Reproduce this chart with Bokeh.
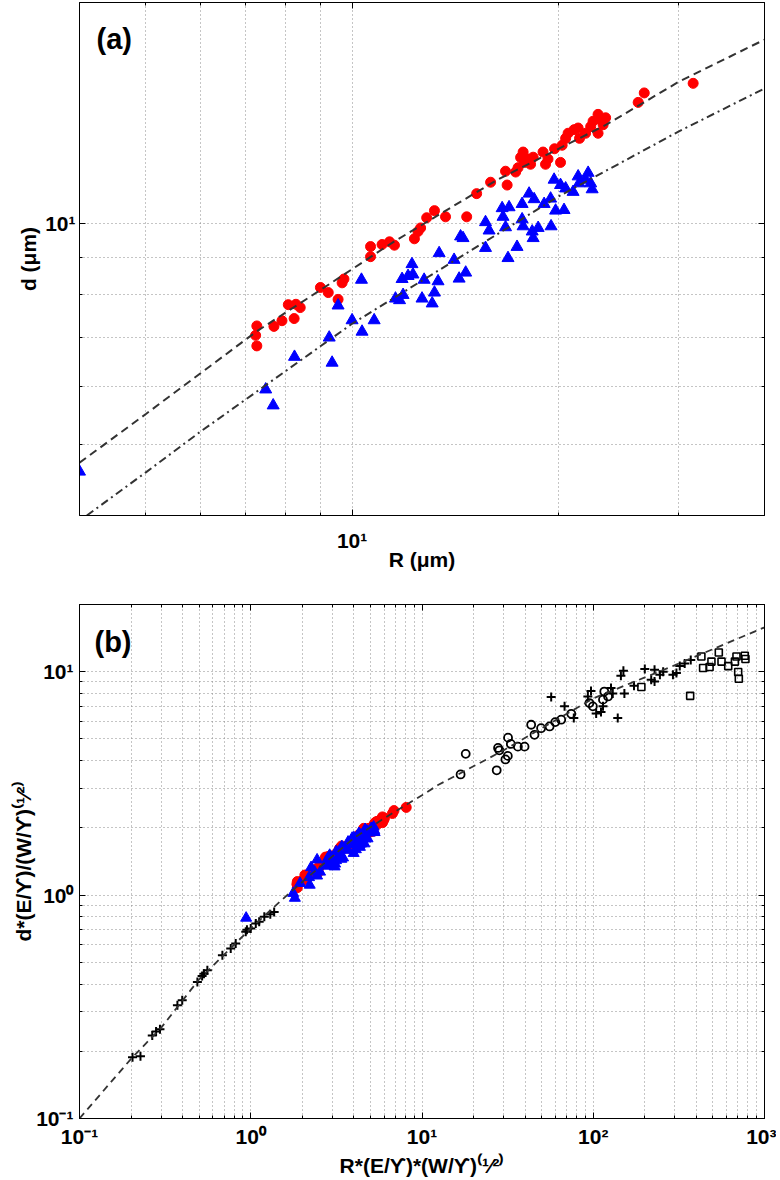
from bokeh.plotting import figure
from bokeh.models import FixedTicker, LogAxis, Label
from bokeh.layouts import column
from bokeh.embed import file_html
from bokeh.resources import INLINE

FONT = "Liberation Sans"

# ---------------- panel (a) data : R (um) vs d (um) ----------------
a_red_R = [7.26, 7.23, 7.26, 7.69, 7.90, 8.07, 8.23, 8.28, 8.40, 8.99, 9.23, 9.54, 9.67, 9.73,
           10.64, 10.64, 11.06, 11.34, 11.53, 12.33, 12.48, 12.59, 12.85, 13.19, 13.69, 14.70,
           15.20, 15.93, 16.75, 16.84, 17.33, 17.47, 17.62, 17.77, 17.86, 18.07, 18.22, 18.38,
           19.00, 19.16, 19.32, 19.75, 20.15, 20.26, 20.50, 20.67, 21.09, 21.38, 21.48, 21.92,
           22.30, 22.48, 22.86, 22.86, 23.06, 23.25, 23.45, 26.16, 26.70, 31.47]
a_red_d = [7.25, 7.04, 6.81, 7.24, 7.37, 7.75, 7.42, 7.76, 7.68, 8.18, 8.05, 7.88, 8.30, 8.40,
           9.30, 9.01, 9.36, 9.44, 9.34, 9.53, 9.75, 9.86, 10.18, 10.41, 10.21, 10.21,
           10.98, 11.38, 11.78, 11.28, 11.75, 11.91, 12.30, 12.51, 12.11, 12.24, 12.04, 12.31,
           12.51, 12.04, 12.24, 12.64, 12.11, 12.78, 13.06, 13.27, 13.42, 13.49, 13.06, 13.27,
           13.55, 13.78, 14.08, 13.27, 13.86, 13.63, 13.93, 14.62, 15.06, 15.52]
a_blue_R = [4.00, 7.48, 7.67, 8.24, 9.26, 9.35, 9.54, 10.00, 10.32, 10.34, 10.77, 11.57, 11.73,
            11.83, 11.87, 12.07, 12.23, 12.27, 12.65, 12.74, 13.09, 13.19, 13.35, 13.40, 14.09,
            14.33, 14.40, 14.52, 14.65, 15.66, 15.66, 15.85, 16.56, 16.61, 16.75, 16.89, 16.95,
            17.41, 17.71, 17.71, 17.77, 18.13, 18.32, 18.38, 18.44, 18.69, 19.07, 19.49, 19.52,
            19.72, 19.82, 20.15, 20.39, 20.50, 21.02, 21.38, 21.45, 21.92, 22.11, 22.30, 22.41]
a_blue_d = [4.59, 5.94, 5.65, 6.58, 6.99, 6.46, 7.73, 7.38, 8.38, 7.12, 7.38, 7.90, 7.86,
            8.40, 7.99, 8.48, 8.80, 8.52, 7.90, 8.38, 7.78, 8.05, 8.34, 9.11, 8.92,
            8.41, 9.60, 9.55, 8.57, 9.26, 10.04, 9.78, 10.49, 10.21, 9.88, 8.97, 10.52,
            9.29, 10.63, 10.13, 9.91, 10.98, 9.75, 9.55, 10.79, 9.86, 10.63, 10.81, 9.91,
            11.47, 10.41, 11.28, 10.43, 11.16, 11.04, 11.59, 11.34, 11.47, 11.72, 11.34, 11.13]
a_fit1_R = [4.0, 5.0, 7.26, 9.0, 11.5, 16.3, 23.5, 30.0, 40.0]
a_fit1_d = [4.72, 5.50, 7.13, 8.12, 9.44, 11.47, 13.63, 15.6, 17.8]
a_fit2_R = [4.1, 5.0, 6.0, 10.0, 20.0, 30.0, 40.0]
a_fit2_d = [4.0, 4.58, 5.20, 7.30, 10.88, 13.35, 15.27]

# ---------------- panel (b) data : normalised ----------------
b_red_x = [1.87, 1.86, 1.87, 1.98, 2.03, 2.07, 2.12, 2.13, 2.16, 2.31, 2.37, 2.45, 2.49, 2.50,
           2.73, 2.73, 2.84, 2.91, 2.96, 3.17, 3.21, 3.24, 3.30, 3.39, 3.52, 3.78, 3.91, 4.09,
           4.30, 4.33, 4.45, 4.49, 4.53, 4.57, 4.59, 4.64, 4.68, 4.72, 4.88, 4.92, 4.97, 5.08,
           5.18, 5.21, 5.27, 5.31, 5.42, 5.49, 5.52, 5.63, 5.73, 5.78, 5.88, 5.88, 5.93, 5.98,
           6.03, 6.72, 6.86, 8.09]
b_red_y = [1.15, 1.12, 1.08, 1.15, 1.17, 1.23, 1.18, 1.23, 1.22, 1.30, 1.28, 1.25, 1.32, 1.34,
           1.48, 1.43, 1.49, 1.50, 1.49, 1.52, 1.55, 1.57, 1.62, 1.66, 1.62, 1.62, 1.75, 1.81,
           1.87, 1.79, 1.87, 1.89, 1.96, 1.99, 1.93, 1.95, 1.91, 1.96, 1.99, 1.91, 1.95, 2.01,
           1.93, 2.03, 2.08, 2.11, 2.13, 2.14, 2.08, 2.11, 2.15, 2.19, 2.24, 2.11, 2.20, 2.17,
           2.21, 2.32, 2.39, 2.47]
b_blue_x = [0.94, 1.77, 1.81, 1.94, 2.19, 2.21, 2.25, 2.36, 2.44, 2.44, 2.54, 2.73, 2.77, 2.79,
            2.80, 2.85, 2.89, 2.90, 2.99, 3.01, 3.09, 3.11, 3.15, 3.16, 3.33, 3.38, 3.40, 3.43,
            3.46, 3.70, 3.70, 3.74, 3.91, 3.92, 3.95, 3.99, 4.00, 4.11, 4.18, 4.18, 4.19, 4.28,
            4.32, 4.34, 4.35, 4.41, 4.50, 4.60, 4.61, 4.65, 4.68, 4.76, 4.81, 4.84, 4.96, 5.05,
            5.06, 5.17, 5.22, 5.26, 5.29]
b_blue_y = [0.79, 1.02, 0.97, 1.13, 1.20, 1.11, 1.33, 1.27, 1.44, 1.22, 1.27, 1.36, 1.35, 1.44,
            1.37, 1.46, 1.51, 1.47, 1.36, 1.44, 1.34, 1.38, 1.43, 1.57, 1.53, 1.45, 1.65, 1.64,
            1.47, 1.59, 1.73, 1.68, 1.80, 1.76, 1.70, 1.54, 1.81, 1.60, 1.83, 1.74, 1.70, 1.89,
            1.68, 1.64, 1.86, 1.70, 1.83, 1.86, 1.70, 1.97, 1.79, 1.94, 1.79, 1.92, 1.90, 1.99,
            1.95, 1.97, 2.02, 1.95, 1.91]
b_plus_x = [0.204, 0.227, 0.266, 0.28, 0.295, 0.373, 0.398, 0.488, 0.52, 0.533, 0.558, 0.683,
            0.764, 0.817, 0.935, 0.95, 1.0, 1.07, 1.12, 1.20, 1.30, 1.37,
            56.8, 68, 77, 93, 97, 104, 111, 114, 127, 130, 139, 145, 150, 152, 173, 200,
            218, 228, 228, 245, 256, 292, 306, 320, 342, 371]
b_plus_y = [0.188, 0.19, 0.235, 0.245, 0.251, 0.321, 0.338, 0.408, 0.435, 0.445, 0.461, 0.538,
            0.577, 0.607, 0.685, 0.70, 0.709, 0.747, 0.76, 0.80, 0.82, 0.84,
            7.7, 7.0, 6.2, 7.75, 8.2, 6.5, 6.6, 7.0, 8.45, 8.0, 6.2, 9.6, 10.1, 8.0, 8.65, 10.3,
            9.2, 9.05, 10.2, 9.7, 10.0, 9.7, 9.87, 10.6, 10.9, 11.3]
b_circ_x = [16.8, 18.0, 27.3, 27.8, 28.3, 30.7, 31.7, 31.8, 33.0, 36.3, 39.7, 43.4, 45.4, 49.6,
            55.6, 60.0, 65.0, 74.4, 95.0, 99.5, 114, 116, 122]
b_circ_y = [3.47, 4.29, 3.62, 4.56, 4.45, 4.05, 4.20, 5.07, 4.75, 4.62, 4.62, 5.79, 5.22, 5.59,
            5.69, 5.95, 6.10, 6.48, 7.24, 7.00, 7.50, 8.15, 7.75]
b_sq_x = [191, 368, 428, 438, 478, 490, 541, 561, 614, 672, 686, 702, 708, 767, 774]
b_sq_y = [8.54, 7.8, 11.7, 10.4, 10.5, 11.1, 12.2, 11.1, 10.6, 11.1, 11.7, 9.97, 9.3, 11.8, 11.4]
b_fit_x = [0.1, 0.2, 0.3, 0.5, 1.0, 1.7, 2.6, 4.0, 5.8, 10, 12.4, 30, 100, 300, 1000]
b_fit_y = [0.1, 0.185, 0.255, 0.42, 0.71, 1.03, 1.36, 1.80, 2.17, 2.8, 3.11, 4.45, 7.6, 10.7, 15.8]

# tick values and texts
a_major = [10]
a_xminor = [5, 6, 7, 8, 9, 20, 30, 40]
a_yminor = [5, 6, 7, 8, 9]
b_major_x = [0.1, 1, 10, 100, 1000]
b_major_y = [0.1, 1, 10]
b_minor = [0.2, 0.3, 0.4, 0.5, 0.6, 0.7, 0.8, 0.9, 2, 3, 4, 5, 6, 7, 8, 9,
           20, 30, 40, 50, 60, 70, 80, 90, 200, 300, 400, 500, 600, 700, 800, 900]
tick_text = {0.1: "10\u207b\u00b9", 1: "10\u2070", 10: "10\u00b9", 100: "10\u00b2", 1000: "10\u00b3"}
a_xlabel = "R (\u03bcm)"
a_ylabel = "d (\u03bcm)"
b_xlabel = "R*(E/\u03d2)*(W/\u03d2)\u207d\u00b9\u2044\u00b2\u207e"
b_ylabel = "d*(E/\u03d2)/(W/\u03d2)\u207d\u00b9\u2044\u00b2\u207e"

GRID = "#8a8a8a"
LINE = "#333333"


def style(p, xt, yt, labsize, so_x, so_y, xl, yl, xlsize, xl_so, yl_so):
    p.background_fill_color = "white"
    p.border_fill_color = "white"
    p.outline_line_color = "black"
    p.outline_line_width = 1
    p.below[0].ticker = xt
    p.left[0].ticker = yt
    p.below[0].axis_label = xl
    p.left[0].axis_label = yl
    p.below[0].axis_label_standoff = xl_so
    p.left[0].axis_label_standoff = yl_so
    for ax, so in ((p.below[0], so_x), (p.left[0], so_y)):
        ax.major_label_overrides = dict(tick_text)
        ax.major_label_text_font = FONT
        ax.major_label_text_font_style = "bold"
        ax.major_label_text_font_size = labsize
        ax.major_label_text_color = "black"
        ax.major_label_standoff = so
        ax.axis_label_text_font = FONT
        ax.axis_label_text_font_style = "bold"
        ax.axis_label_text_font_size = xlsize
        ax.axis_label_text_color = "black"
        ax.major_tick_in = 6
        ax.major_tick_out = 0
        ax.minor_tick_in = 3
        ax.minor_tick_out = 0
        ax.axis_line_color = "black"
        ax.major_tick_line_color = "black"
        ax.minor_tick_line_color = "black"
    for loc, tk in (("above", xt), ("right", yt)):
        ax = LogAxis(ticker=tk, major_label_text_font_size="1px", major_label_text_color=None,
                     major_label_standoff=0,
                     major_tick_in=6, major_tick_out=0, minor_tick_in=3, minor_tick_out=0,
                     axis_line_color="black", major_tick_line_color="black",
                     minor_tick_line_color="black")
        p.add_layout(ax, loc)
    for g in (p.xgrid[0], p.ygrid[0]):
        g.grid_line_color = GRID
        g.grid_line_dash = "1 3"
        g.grid_line_width = 1
        g.minor_grid_line_color = GRID
        g.minor_grid_line_dash = "1 3"
        g.minor_grid_line_width = 1


def panel_label(p, text, x, y):
    p.add_layout(Label(x=x, y=y, x_units="screen", y_units="screen", text=text,
                       text_font=FONT, text_font_style="bold", text_font_size="29px",
                       text_align="left", text_baseline="middle", text_color="black"))


# ---------------- figure (a) ----------------
pa = figure(x_axis_type="log", y_axis_type="log", x_range=(4, 40), y_range=(4, 20),
            frame_width=685, frame_height=513, min_border_left=79, min_border_right=12,
            min_border_top=2, min_border_bottom=75, toolbar_location=None,
            output_backend="svg")
style(pa, FixedTicker(ticks=a_major, minor_ticks=a_xminor),
      FixedTicker(ticks=a_major, minor_ticks=a_yminor), "21px", 13, 4,
      a_xlabel, a_ylabel, "21px", -7, 2)
pa.scatter(a_red_R, a_red_d, marker="circle", size=10, fill_color="#ff0000", line_color="#ff0000")
pa.scatter(a_blue_R, a_blue_d, marker="triangle", size=12, fill_color="#0000ff", line_color="#0000ff")
pa.line(a_fit1_R, a_fit1_d, line_color=LINE, line_width=2, line_dash="8 5")
pa.line(a_fit2_R, a_fit2_d, line_color=LINE, line_width=2, line_dash="8 4 2 4")
panel_label(pa, "(a)", 17, 477)

# ---------------- figure (b) ----------------
pb = figure(x_axis_type="log", y_axis_type="log", x_range=(0.1, 1000), y_range=(0.1, 20),
            frame_width=685, frame_height=514, min_border_left=79, min_border_right=12,
            min_border_top=14, min_border_bottom=58, toolbar_location=None,
            output_backend="svg")
style(pb, FixedTicker(ticks=b_major_x, minor_ticks=b_minor),
      FixedTicker(ticks=b_major_y, minor_ticks=b_minor), "21px", 6, 6,
      b_xlabel, b_ylabel, "21px", 3, -2)
pb.scatter(b_plus_x, b_plus_y, marker="cross", size=9, line_color="black", line_width=2)
pb.scatter(b_circ_x, b_circ_y, marker="circle", size=8, fill_color=None, line_color="black", line_width=1.8)
pb.scatter(b_sq_x, b_sq_y, marker="square", size=7, fill_color=None, line_color="black", line_width=1.6)
pb.scatter(b_red_x, b_red_y, marker="circle", size=10, fill_color="#ff0000", line_color="#ff0000")
pb.scatter(b_blue_x, b_blue_y, marker="triangle", size=11, fill_color="#0000ff", line_color="#0000ff")
pb.line(b_fit_x, b_fit_y, line_color=LINE, line_width=1.8, line_dash="7 5")
panel_label(pb, "(b)", 15, 477)

layout = column(pa, pb)
open("out.html", "w").write(file_html(layout, INLINE))
